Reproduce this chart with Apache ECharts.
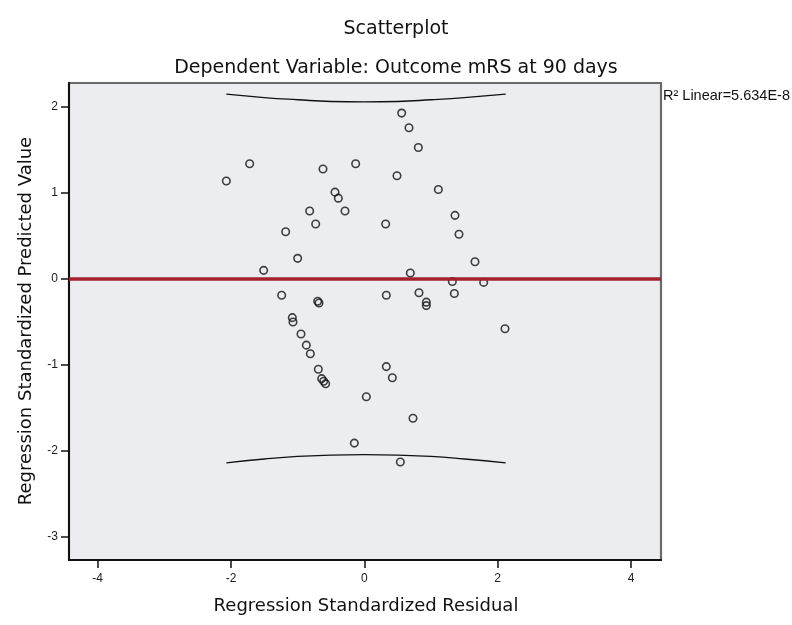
<!DOCTYPE html>
<html>
<head>
<meta charset="utf-8">
<script src="https://cdn.jsdelivr.net/npm/echarts@6/dist/echarts.min.js"></script>
<style>html,body{margin:0;padding:0;background:#fff}#chart{width:792px;height:625px}</style>
</head>
<body>
<div id="chart"></div>
<script>
// Regression standardized residual (x) and predicted value (y)
const residual = [-2.07, -1.72, -0.62, -0.13, 0.49, -0.44, -0.39, -0.29, -0.82, -0.73,
  0.32, -1.18, -1.00, -1.51, -1.24, -0.70, -0.68, 0.33, 0.56, 0.67,
  0.81, 1.11, 1.36, 1.42, 1.66, 0.69, 1.32, 1.79, 0.82, 1.35,
  0.93, 0.93, 2.11, -1.08, -1.07, -0.95, -0.87, -0.81, -0.69, -0.64,
  -0.61, -0.58, 0.33, 0.42, 0.03, -0.15, 0.73, 0.54];
const predicted = [1.14, 1.34, 1.28, 1.34, 1.20, 1.01, 0.94, 0.79, 0.79, 0.64,
  0.64, 0.55, 0.24, 0.10, -0.19, -0.26, -0.28, -0.19, 1.93, 1.76,
  1.53, 1.04, 0.74, 0.52, 0.20, 0.07, -0.03, -0.04, -0.16, -0.17,
  -0.27, -0.31, -0.58, -0.45, -0.50, -0.64, -0.77, -0.87, -1.05, -1.16,
  -1.19, -1.22, -1.02, -1.15, -1.37, -1.91, -1.62, -2.13];
// Interval curves
const bandX = [-2.07, -1.5, -1.0, -0.5, 0, 0.5, 1.0, 1.5, 2.12];
const upperBand = [2.15, 2.11, 2.085, 2.065, 2.06, 2.065, 2.085, 2.11, 2.15];
const lowerBand = [-2.14, -2.095, -2.065, -2.05, -2.045, -2.05, -2.065, -2.095, -2.14];
// Fit line (y = 0)
const fitY = 0;
const xTicks = [-4, -2, 0, 2, 4];
const yTicks = [-3, -2, -1, 0, 1, 2];
const titleText = 'Scatterplot';
const subtitleText = 'Dependent Variable: Outcome mRS at 90 days';
const xName = 'Regression Standardized Residual';
const yName = 'Regression Standardized Predicted Value';
const r2Text = 'R\u00B2 Linear=5.634E-8';

const points = residual.map((x, i) => [x, predicted[i]]);
const upper = bandX.map((x, i) => [x, upperBand[i]]);
const lower = bandX.map((x, i) => [x, lowerBand[i]]);

const chart = echarts.init(document.getElementById('chart'), null, {renderer: 'canvas'});
const tickFont = {fontFamily: 'Liberation Sans', fontSize: 12, color: '#1a1a1a'};
chart.setOption({
  animation: false,
  backgroundColor: '#ffffff',
  grid: {left: 69, right: 131, top: 83, bottom: 65, show: true,
    backgroundColor: '#ECEDF0', borderColor: '#6a6a6a', borderWidth: 2.2},
  xAxis: {
    type: 'value', min: -4.43, max: 4.45,
    axisLine: {show: true, onZero: false, lineStyle: {color: '#111', width: 2}},
    axisTick: {show: true, inside: false, length: 8, customValues: xTicks, lineStyle: {color: '#111', width: 1.5}},
    axisLabel: Object.assign({customValues: xTicks, margin: 13}, tickFont),
    splitLine: {show: false}
  },
  yAxis: {
    type: 'value', min: -3.27, max: 2.28,
    axisLine: {show: true, onZero: false, lineStyle: {color: '#111', width: 2}},
    axisTick: {show: true, inside: false, length: 8, customValues: yTicks, lineStyle: {color: '#111', width: 1.5}},
    axisLabel: Object.assign({customValues: yTicks, margin: 11}, tickFont),
    splitLine: {show: false}
  },
  series: [
    {type: 'line', data: upper, smooth: true, showSymbol: false, symbol: 'none',
      lineStyle: {color: '#111', width: 1.3}, z: 2},
    {type: 'line', data: lower, smooth: true, showSymbol: false, symbol: 'none',
      lineStyle: {color: '#111', width: 1.3}, z: 2},
    {type: 'scatter', data: points, symbol: 'circle', symbolSize: 7.5,
      itemStyle: {color: 'rgba(0,0,0,0)', borderColor: '#111', borderWidth: 1.6}, z: 4,
      markLine: {silent: true, symbol: ['none', 'none'], label: {show: false},
        lineStyle: {color: '#A3202C', width: 3.5, type: 'solid'},
        data: [{yAxis: fitY}]}}
  ],
  graphic: [
    {type: 'text', x: 396, y: 29, style: {text: titleText, font: '19px "DejaVu Sans"', fill: '#111', align: 'center', verticalAlign: 'middle'}},
    {type: 'text', x: 396, y: 68, style: {text: subtitleText, font: '19px "DejaVu Sans"', fill: '#111', align: 'center', verticalAlign: 'middle'}},
    {type: 'text', x: 366, y: 606, style: {text: xName, font: '18px "DejaVu Sans"', fill: '#111', align: 'center', verticalAlign: 'middle'}},
    {type: 'text', x: 26, y: 321, rotation: Math.PI / 2, style: {text: yName, font: '18px "DejaVu Sans"', fill: '#111', align: 'center', verticalAlign: 'middle'}},
    {type: 'text', x: 663, y: 96, style: {text: r2Text, font: '14.5px "Liberation Sans"', fill: '#111', align: 'left', verticalAlign: 'middle'}}
  ]
});
</script>
</body>
</html>
